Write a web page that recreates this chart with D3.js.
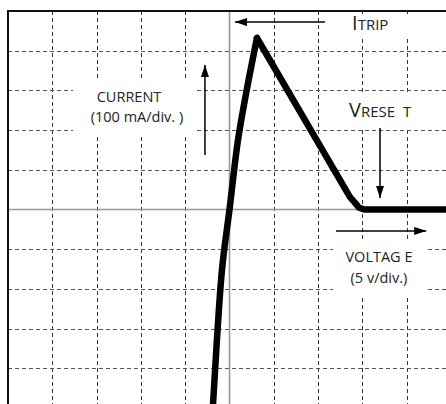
<!DOCTYPE html>
<html>
<head>
<meta charset="utf-8">
<script src="https://cdn.jsdelivr.net/npm/d3@7"></script>
<style>
  html, body { margin: 0; padding: 0; background: #fff; }
  svg { display: block; }
  text { font-family: "Open Sans", "Noto Sans", sans-serif; fill: #222; }
</style>
</head>
<body>
<svg id="chart"></svg>
<script>
// I-V trace (volts, milliamps)
// rising part, up to the trip point
var riseVolts = [-1.98, -1.86, -0.85, 0.0, 0.96, 1.92, 3.10];
var riseMilliamps = [-530, -490, -152, 0, 175, 298, 432];
// falling part, from the trip point to the reset and beyond
var fallVolts = [3.10, 13.6, 14.2, 14.6, 15.2, 25.5];
var fallMilliamps = [432, 31, 16, 5, 0, 0];

// grid divisions (5 V/div, 100 mA/div)
var xDivs = [-20, -15, -10, -5, 5, 10, 15, 20];
var yDivs = [400, 300, 200, 100, -100, -200, -300, -400];

var width = 446, height = 404;

var x = d3.scaleLinear().domain([-25, 25]).range([8, 451]);
var y = d3.scaleLinear().domain([-500, 500]).range([408, 11]);

var svg = d3.select("#chart").attr("width", width).attr("height", height);

var defs = svg.append("defs");
defs.append("marker")
    .attr("id", "head")
    .attr("viewBox", "0 0 12 8")
    .attr("refX", 12).attr("refY", 4)
    .attr("markerWidth", 12).attr("markerHeight", 8)
    .attr("markerUnits", "userSpaceOnUse")
    .attr("orient", "auto")
  .append("path")
    .attr("d", "M0,0 L12,4 L0,8 Z")
    .style("fill", "#000");

//dashed grid
svg.append("g").selectAll("line")
    .data(xDivs).enter().append("line")
    .attr("x1", function(d) { return Math.round(x(d)) + 0.5; })
    .attr("x2", function(d) { return Math.round(x(d)) + 0.5; })
    .attr("y1", y(500)).attr("y2", height)
    .style("stroke", "#333").style("stroke-width", 1)
    .style("stroke-dasharray", "4,3");

svg.append("g").selectAll("line")
    .data(yDivs).enter().append("line")
    .attr("y1", function(d) { return Math.round(y(d)) + 0.5; })
    .attr("y2", function(d) { return Math.round(y(d)) + 0.5; })
    .attr("x1", x(-25)).attr("x2", width)
    .style("stroke", "#555").style("stroke-width", 1)
    .style("stroke-dasharray", "4,3");

//white boxes behind labels (cut the grid)
var boxes = [
    { v0: -17.66, v1: -3.89, i0: 326, i1: 185 },
    { v0: 11.68, v1: 22.07, i0: -82, i1: -218 },
    { v0: 12.47, v1: 21.5, i0: 291, i1: 203 },
    { v0: 12.47, v1: 21.5, i0: 492, i1: 437 }
];
svg.append("g").selectAll("rect")
    .data(boxes).enter().append("rect")
    .attr("x", function(d) { return x(d.v0); })
    .attr("y", function(d) { return y(d.i0); })
    .attr("width", function(d) { return x(d.v1) - x(d.v0); })
    .attr("height", function(d) { return y(d.i1) - y(d.i0); })
    .style("fill", "#fff");

//centre axes
svg.append("line")
    .attr("x1", x(0)).attr("x2", x(0))
    .attr("y1", y(500)).attr("y2", height)
    .style("stroke", "#999").style("stroke-width", 1.6);
svg.append("line")
    .attr("x1", x(-25)).attr("x2", width)
    .attr("y1", y(0)).attr("y2", y(0))
    .style("stroke", "#999").style("stroke-width", 1.6);

//frame (left and top)
svg.append("path")
    .attr("d", "M" + x(-25) + "," + height + " L" + x(-25) + "," + y(500) + " L" + width + "," + y(500))
    .style("fill", "none").style("stroke", "#111").style("stroke-width", 2);

//arrows
var arrows = [
    { v0: 10.78, i0: 472, v1: 0.62, i1: 472 },
    { v0: -2.77, i0: 137, v1: -2.77, i1: 364 },
    { v0: 16.99, i0: 205, v1: 16.99, i1: 29 },
    { v0: 12.02, i0: -54, v1: 22.2, i1: -54 }
];
svg.append("g").selectAll("line")
    .data(arrows).enter().append("line")
    .attr("x1", function(d) { return x(d.v0); })
    .attr("y1", function(d) { return y(d.i0); })
    .attr("x2", function(d) { return x(d.v1); })
    .attr("y2", function(d) { return y(d.i1); })
    .style("stroke", "#000").style("stroke-width", 1.5)
    .attr("marker-end", "url(#head)");

//the trace: smooth rise, straight fall
var rise = riseVolts.map(function(v, i) { return [v, riseMilliamps[i]]; });
var fall = fallVolts.map(function(v, i) { return [v, fallMilliamps[i]]; });
var smooth = d3.line()
    .curve(d3.curveCatmullRom.alpha(0.5))
    .x(function(d) { return x(d[0]); })
    .y(function(d) { return y(d[1]); });
var straight = d3.line()
    .x(function(d) { return x(d[0]); })
    .y(function(d) { return y(d[1]); });
svg.selectAll(".trace")
    .data([{ pts: rise, gen: smooth }, { pts: fall, gen: straight }])
    .enter().append("path")
    .attr("class", "trace")
    .attr("d", function(d) { return d.gen(d.pts); })
    .style("fill", "none")
    .style("stroke", "#000")
    .style("stroke-width", 6.5)
    .style("stroke-linejoin", "round")
    .style("stroke-linecap", "round");

//labels
svg.append("text").attr("x", x(-11.34)).attr("y", y(272))
    .attr("text-anchor", "middle").style("font-size", "14.5px").text("CURRENT");
svg.append("text").attr("x", x(-10.44)).attr("y", y(220))
    .attr("text-anchor", "middle").style("font-size", "14.5px").text("(100 mA/div. )");

var itrip = svg.append("text").attr("x", x(13.83)).attr("y", y(452));
itrip.append("tspan").style("font-size", "20px").text("I");
itrip.append("tspan").style("font-size", "15px").text("TRIP");

var vreset = svg.append("text").attr("x", x(13.49)).attr("y", y(233));
vreset.append("tspan").style("font-size", "20px").text("V");
vreset.append("tspan").style("font-size", "15px").text("RESE\u00a0\u00a0T");

svg.append("text").attr("x", x(16.87)).attr("y", y(-132))
    .attr("text-anchor", "middle").style("font-size", "14.5px").text("VOLTAG\u00a0E");
svg.append("text").attr("x", x(16.87)).attr("y", y(-184))
    .attr("text-anchor", "middle").style("font-size", "14.5px").text("(5 v/div.)");
</script>
</body>
</html>
